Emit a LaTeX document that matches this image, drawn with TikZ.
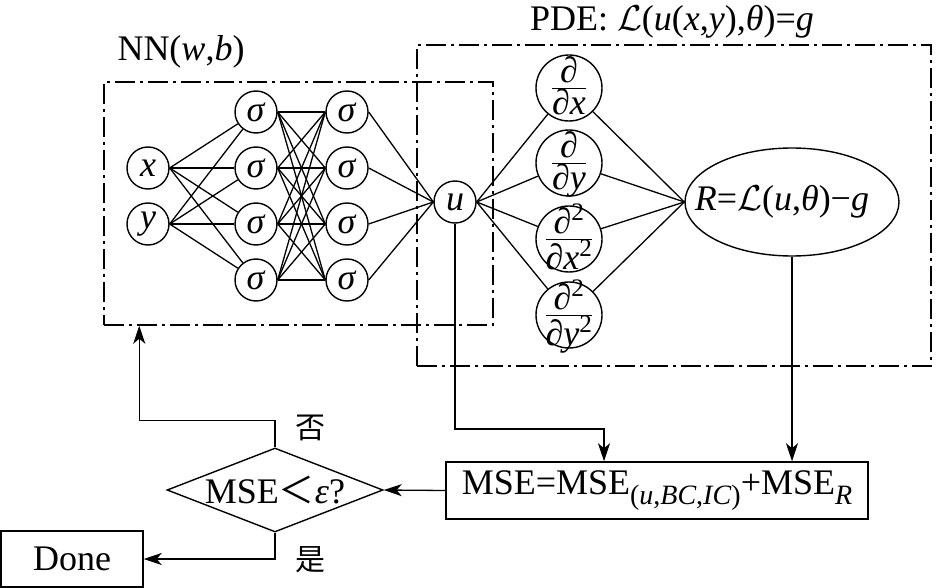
\documentclass[tikz,border=0pt]{standalone}
\usepackage{fix-cm}
\usepackage{fontspec}
\setmainfont{Liberation Serif}
\newfontfamily\cjk{Noto Sans CJK SC}
\usetikzlibrary{shapes.geometric,arrows.meta}
\newcommand{\dfr}[2]{\smash{\makebox[0pt]{\raisebox{-9pt}{$\textstyle\frac{\mbox{#1}}{\mbox{#2}}$}}}}
\begin{document}
\begin{tikzpicture}[x=1pt,y=-1pt,
  every node/.style={font=\fontsize{36}{40}\selectfont},
  neuron/.style={circle,draw,line width=1.4pt,minimum size=42pt,inner sep=0pt},
  dnode/.style={circle,draw,line width=1.4pt,minimum size=66pt,inner sep=0pt},
  conn/.style={line width=1.3pt},
  frame/.style={draw,line width=1.5pt,dash pattern=on 20pt off 5pt on 3pt off 5pt,inner sep=0pt},
  arr/.style={line width=1.3pt,-{Stealth[length=18pt,width=12pt,inset=5pt]}},
  boxn/.style={draw,line width=1.5pt,inner sep=0pt}]
\useasboundingbox (0,0) rectangle (937,588);

% frames
\node[frame,minimum width=389pt,minimum height=243pt] (nn) at (298.5,203.5) {};
\node[frame,minimum width=514pt,minimum height=321pt] (pde) at (674,205.5) {};
\node (nnlab) at (181,52) {NN(\textit{w},\textit{b})};
\node (pdelab) at (672,22) {PDE: $\mathcal{L}$(\textit{u}(\textit{x},\textit{y}),\textit{θ})=\textit{g}};

% network
\node[neuron] (nx) at (148,168) {\textit{x}};
\node[neuron] (ny) at (148,224) {\textit{y}};
\foreach \j/\yy in {1/112,2/168,3/224,4/280} {
  \node[neuron] (a\j) at (256,\yy) {\textit{σ}};
  \node[neuron] (b\j) at (347,\yy) {\textit{σ}};
}
\node[neuron] (u) at (455,202) {\textit{u}};

\node[dnode] (d1) at (569,88) {\dfr{∂}{∂\textit{x}}};
\node[dnode] (d2) at (569,163) {\dfr{∂}{∂\textit{y}}};
\node[dnode] (d3) at (569,239) {\dfr{∂\textsuperscript{2}}{∂\textit{x}\textsuperscript{2}}};
\node[dnode] (d4) at (569,315) {\dfr{∂\textsuperscript{2}}{∂\textit{y}\textsuperscript{2}}};
\node[ellipse,draw,line width=1.4pt,minimum width=214pt,minimum height=108pt,inner sep=0pt] (R) at (792,202)
  {\makebox[0pt]{\textit{R}=$\mathcal{L}$(\textit{u},\textit{θ})−\textit{g}\hspace*{20pt}}};

\foreach \j in {1,...,4} {
  \draw[conn] (nx.east) -- (a\j);
  \draw[conn] (ny.east) -- (a\j);
  \foreach \k in {1,...,4} \draw[conn] (a\j.east) -- (b\k.west);
  \draw[conn] (b\j.east) -- (u.west);
  \draw[conn] (u.east) -- (d\j);
  \draw[conn] (d\j) -- (R.west);
}

% lower flow
\node[boxn,minimum width=422pt,minimum height=57pt] (mse) at (657,490.5)
  {MSE=MSE\raisebox{-10pt}{\fontsize{28}{30}\selectfont(\textit{u},\textit{BC},\textit{IC})}+MSE\raisebox{-10pt}{\fontsize{28}{30}\selectfont\textit{R}}};
\node[diamond,draw,line width=1.4pt,aspect=2.57,inner sep=0pt,minimum width=216pt,minimum height=84pt] (dia) at (275,490)
  {MSE{\cjk ＜}\textit{ε}?};
\node[boxn,minimum width=142pt,minimum height=56pt] (done) at (72,559) {Done};
\node[font=\fontsize{30}{32}\selectfont] (no) at (310,428) {\cjk 否};
\node[font=\fontsize{30}{32}\selectfont] (yes) at (310,560) {\cjk 是};

\draw[arr] (u.south) |- ([xshift=-53pt]mse.north |- 0,429) -- ([xshift=-53pt]mse.north);
\draw[arr] (R.south) -- (R.south |- mse.north);
\draw[arr] (mse.west) -- (dia.east);
\draw[arr] (dia.north) -- ++(0,-27) -| ([xshift=36pt]nn.south west);
\draw[arr] (dia.south) |- (done.east);
\end{tikzpicture}
\end{document}
